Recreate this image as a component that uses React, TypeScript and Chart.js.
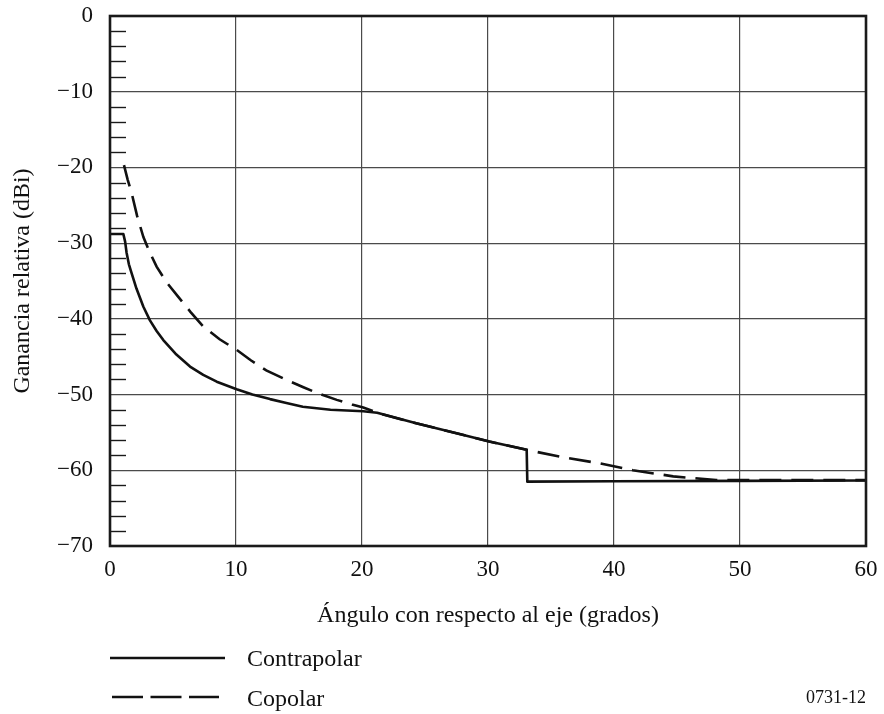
import React, { useEffect, useRef } from "react";
import { Chart, registerables } from "chart.js";

Chart.register(...registerables);

// Off-axis angle (degrees) and relative gain (dBi) for each pattern
const contrapolarAngle = [0, 1.06, 1.2, 1.32, 1.5, 1.72, 2.1, 2.65, 3.17, 3.7, 4.23, 5.2, 6.35, 7.4, 8.47, 10.05, 11.3, 12.7, 14.0, 15.3, 17.5, 20.1, 21.2, 24.3, 27.5, 30.1, 33.07, 33.12, 40, 50, 60];
const contrapolarGain = [-28.8, -28.8, -29.8, -31.3, -32.8, -34.0, -36.0, -38.4, -40.2, -41.6, -42.8, -44.6, -46.3, -47.4, -48.3, -49.3, -50.0, -50.6, -51.1, -51.6, -52.0, -52.2, -52.4, -53.8, -55.1, -56.2, -57.3, -61.5, -61.45, -61.4, -61.35];

const copolarAngle = [1.11, 1.4, 1.72, 2.15, 2.65, 3.15, 3.7, 4.5, 5.42, 6.4, 7.4, 8.7, 10.05, 11.2, 12.4, 13.8, 15.3, 16.6, 18.0, 19.2, 20.1, 21.2, 24.3, 27.5, 30.1, 33.07, 35.7, 38.9, 41.5, 44.7, 48.1, 52, 56, 60];
const copolarGain = [-19.7, -21.6, -23.4, -26.4, -29.2, -31.2, -33.1, -35.2, -37.1, -39.1, -41.0, -42.7, -44.1, -45.5, -46.8, -47.9, -49.0, -49.9, -50.7, -51.3, -51.7, -52.4, -53.8, -55.1, -56.2, -57.3, -58.2, -59.1, -60.0, -60.8, -61.3, -61.3, -61.3, -61.3];

const angleTicks = [0, 10, 20, 30, 40, 50, 60];
const gainTicks = [0, -10, -20, -30, -40, -50, -60, -70];
const minorGainTicks = [-2, -4, -6, -8, -12, -14, -16, -18, -22, -24, -26, -28, -32, -34, -36, -38, -42, -44, -46, -48, -52, -54, -56, -58, -62, -64, -66, -68];

const seriesNames = ["Contrapolar", "Copolar"];

const SERIF = "'Liberation Serif', 'Times New Roman', serif";

const framePlugin = {
  id: "frameAndMinorTicks",
  afterDraw(chart: any) {
    const { ctx, chartArea: a, scales } = chart;
    ctx.save();
    ctx.strokeStyle = "#1a1a1a";
    ctx.lineWidth = 1.4;
    minorGainTicks.forEach((v) => {
      const y = Math.round(scales.y.getPixelForValue(v)) + 0.5;
      ctx.beginPath();
      ctx.moveTo(a.left, y);
      ctx.lineTo(a.left + 16, y);
      ctx.stroke();
    });
    ctx.lineWidth = 2.6;
    ctx.strokeRect(a.left, a.top, a.right - a.left, a.bottom - a.top);
    ctx.restore();
  },
};

function GainChart() {
  const canvasRef = useRef<HTMLCanvasElement | null>(null);

  useEffect(() => {
    const canvas = canvasRef.current;
    if (!canvas) return;
    const chart = new Chart(canvas, {
      type: "scatter",
      data: {
        datasets: [
          {
            label: seriesNames[0],
            data: contrapolarAngle.map((x, i) => ({ x, y: contrapolarGain[i] })),
            showLine: true,
            borderColor: "#111",
            borderWidth: 2.6,
            borderJoinStyle: "round",
            pointRadius: 0,
            tension: 0,
            fill: false,
          },
          {
            label: seriesNames[1],
            data: copolarAngle.map((x, i) => ({ x, y: copolarGain[i] })),
            showLine: true,
            borderColor: "#111",
            borderWidth: 2.6,
            borderDash: [22, 10],
            pointRadius: 0,
            tension: 0,
            fill: false,
          },
        ],
      },
      options: {
        responsive: false,
        animation: false,
        devicePixelRatio: 1,
        layout: { padding: { left: 0, right: 18, top: 16, bottom: 128 } },
        plugins: { legend: { display: false }, tooltip: { enabled: false } },
        scales: {
          x: {
            type: "linear",
            min: 0,
            max: 60,
            afterFit: (s: any) => {
              s.height = 40;
              s.paddingLeft = 0;
              s.paddingRight = 0;
            },
            afterBuildTicks: (s: any) => {
              s.ticks = angleTicks.map((v) => ({ value: v }));
            },
            border: { display: false },
            grid: { color: "#4a4a4a", lineWidth: 1.2, drawTicks: false },
            ticks: {
              padding: 10,
              color: "#111",
              font: { family: SERIF, size: 23 },
              callback: (v: any) => String(v),
            },
          },
          y: {
            type: "linear",
            min: -70,
            max: 0,
            afterFit: (s: any) => {
              s.width = 110;
              s.paddingTop = 0;
              s.paddingBottom = 0;
            },
            afterBuildTicks: (s: any) => {
              s.ticks = gainTicks.map((v) => ({ value: v }));
            },
            border: { display: false },
            grid: { color: "#4a4a4a", lineWidth: 1.2, drawTicks: false },
            ticks: {
              padding: 17,
              color: "#111",
              font: { family: SERIF, size: 23 },
              callback: (v: any) => (v === 0 ? "0" : "\u2212" + Math.abs(v)),
            },
            title: {
              display: true,
              text: "Ganancia relativa (dBi)",
              color: "#111",
              font: { family: SERIF, size: 24 },
              padding: { top: 8, bottom: 0 },
            },
          },
        },
      },
      plugins: [framePlugin],
    });
    return () => chart.destroy();
  }, []);

  return <canvas ref={canvasRef} width={884} height={714} style={{ display: "block" }} />;
}

const textStyle: React.CSSProperties = {
  position: "absolute",
  fontFamily: SERIF,
  color: "#111",
  whiteSpace: "nowrap",
  lineHeight: 1,
};

export default function App() {
  return (
    <div style={{ position: "fixed", left: 0, top: 0, width: 884, height: 714, background: "#fff" }}>
      <GainChart />
      <div style={{ ...textStyle, left: 0, width: 976, top: 602, fontSize: 24, textAlign: "center" }}>
        Ángulo con respecto al eje (grados)
      </div>
      <svg style={{ position: "absolute", left: 0, top: 0 }} width={884} height={714}>
        <line x1={110} y1={658} x2={225} y2={658} stroke="#111" strokeWidth={2.6} />
        <line x1={112} y1={697} x2={219} y2={697} stroke="#111" strokeWidth={2.6} strokeDasharray="31 7.5" />
      </svg>
      <div style={{ ...textStyle, left: 247, top: 646, fontSize: 24 }}>{seriesNames[0]}</div>
      <div style={{ ...textStyle, left: 247, top: 686, fontSize: 24 }}>{seriesNames[1]}</div>
      <div style={{ ...textStyle, right: 18, top: 688, fontSize: 18 }}>0731-12</div>
    </div>
  );
}
